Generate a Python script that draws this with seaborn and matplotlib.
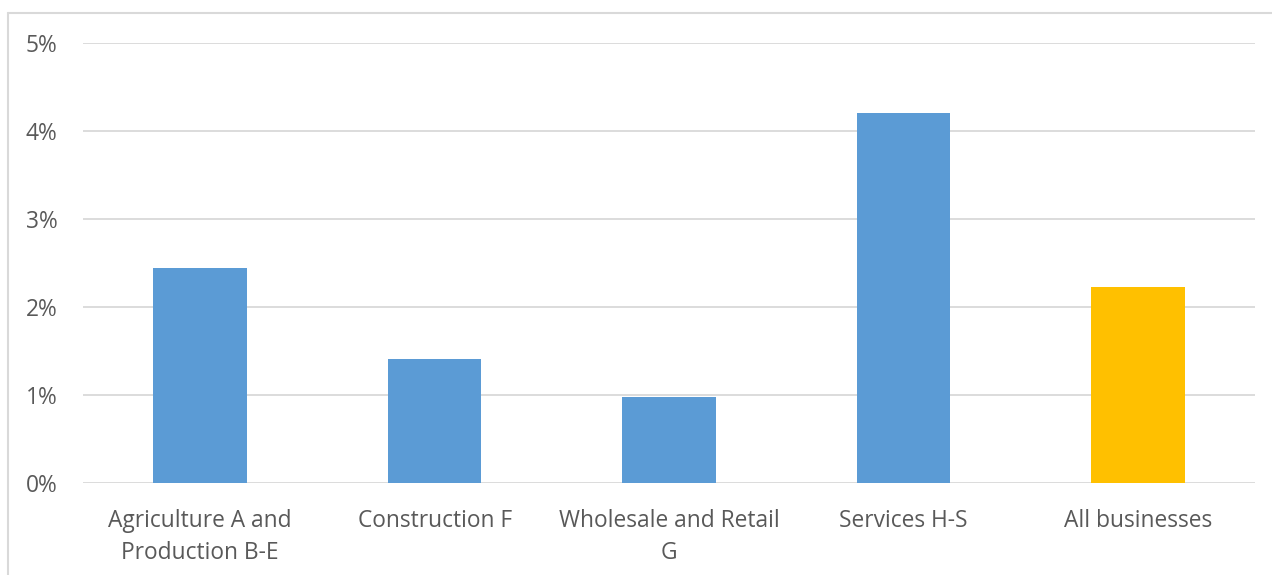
import matplotlib
matplotlib.use("Agg")
import matplotlib.pyplot as plt
from matplotlib.lines import Line2D
from matplotlib.ticker import PercentFormatter
import pandas as pd
import seaborn as sns

# Share of businesses by sector
sectors = [
    "Agriculture A and\nProduction B-E",
    "Construction F",
    "Wholesale and Retail\nG",
    "Services H-S",
    "All businesses",
]
shares = [0.0244, 0.0141, 0.0098, 0.0420, 0.0223]
bar_colors = ["#5B9BD5", "#5B9BD5", "#5B9BD5", "#5B9BD5", "#FFC000"]
y_ticks = [0.0, 0.01, 0.02, 0.03, 0.04, 0.05]

sns.set_theme(style="white")
plt.rcParams["font.family"] = ["Open Sans", "DejaVu Sans"]

text_color = "#595959"
grid_color = "#D9D9D9"

df = pd.DataFrame({"sector": sectors, "share": shares})

fig = plt.figure(figsize=(12.72, 5.75), dpi=100)
W, H = 1272, 575
ax = fig.add_axes([83 / W, (H - 483) / H, (1255 - 83) / W, (483 - 43) / H])

sns.barplot(
    data=df, x="sector", y="share", hue="sector",
    palette=dict(zip(sectors, bar_colors)), width=0.4,
    saturation=1, legend=False, ax=ax, zorder=3, linewidth=0,
)

ax.set_ylim(0, 0.05)
ax.set_xlim(-0.5, len(sectors) - 0.5)
ax.set_yticks(y_ticks)
ax.yaxis.set_major_formatter(PercentFormatter(xmax=1, decimals=0))
ax.grid(axis="y", color=grid_color, linewidth=1.3, zorder=0)
ax.set_axisbelow(True)
for s in ax.spines.values():
    s.set_visible(False)
ax.set_xlabel("")
ax.set_ylabel("")
ax.tick_params(axis="both", length=0, colors=text_color, labelsize=16.4)
ax.tick_params(axis="y", pad=18.5)
ax.tick_params(axis="x", pad=19)
for lbl in ax.get_xticklabels():
    lbl.set_linespacing(1.45)

# Chart-area frame (top and left edges)
fig.add_artist(Line2D([8 / W, 8 / W], [0, 1 - 13 / H], transform=fig.transFigure,
                      color=grid_color, linewidth=1.5))
fig.add_artist(Line2D([8 / W, 1], [1 - 13 / H, 1 - 13 / H], transform=fig.transFigure,
                      color=grid_color, linewidth=1.5))

fig.savefig("out.png", dpi=100, facecolor="white")
